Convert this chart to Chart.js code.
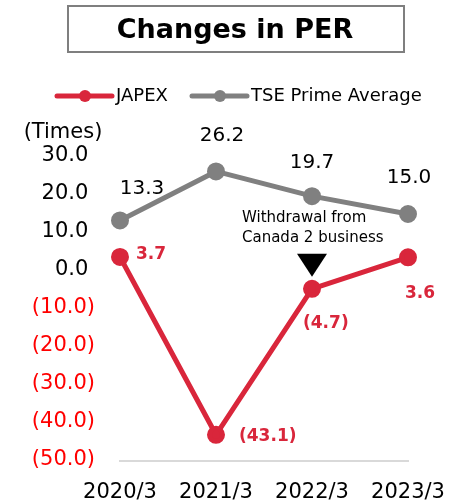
<!DOCTYPE html>
<html>
<head>
<meta charset="utf-8">
<script src="https://cdn.jsdelivr.net/npm/chart.js@4/dist/chart.umd.min.js"></script>
<style>
  html, body { margin: 0; padding: 0; background: #fff; }
  #wrap { position: relative; width: 451px; height: 502px; }
</style>
</head>
<body>
<div id="wrap"><canvas id="myChart" width="451" height="502"></canvas></div>
<script>
// data
var years = ['2020/3', '2021/3', '2022/3', '2023/3'];
var japex = [3.7, -43.1, -4.7, 3.6];
var tsePrime = [13.3, 26.2, 19.7, 15.0];
var seriesNames = ['JAPEX', 'TSE Prime Average'];
var yMin = -50, yMax = 30, yStep = 10;

var RED = '#d9263b';
var GRAY = '#808080';
var FONT = '"DejaVu Sans", Verdana, sans-serif';

function fmt(v) {
    return v < 0 ? '(' + Math.abs(v).toFixed(1) + ')' : v.toFixed(1);
}

// everything around the plot: title box, legend, unit, labels, note
var extras = {
    id: 'extras',
    afterDatasetsDraw: function (chart) {
        var ctx = chart.ctx;
        var xs = chart.scales.x, ys = chart.scales.y;
        ctx.save();

        // title box
        ctx.strokeStyle = '#7f7f7f';
        ctx.lineWidth = 2;
        ctx.strokeRect(68, 6, 336, 46);
        ctx.fillStyle = '#000';
        ctx.font = 'bold 27px ' + FONT;
        ctx.textAlign = 'center';
        ctx.textBaseline = 'middle';
        ctx.fillText('Changes in PER', 235, 31);

        // legend
        var items = [
            { x: 57, color: RED, text: seriesNames[0] },
            { x: 192, color: GRAY, text: seriesNames[1] }
        ];
        items.forEach(function (it) {
            ctx.strokeStyle = it.color;
            ctx.lineWidth = 5;
            ctx.lineCap = 'round';
            ctx.beginPath();
            ctx.moveTo(it.x, 96);
            ctx.lineTo(it.x + 55, 96);
            ctx.stroke();
            ctx.fillStyle = it.color;
            ctx.beginPath();
            ctx.arc(it.x + 28, 96, 6, 0, Math.PI * 2);
            ctx.fill();
            ctx.fillStyle = '#000';
            ctx.font = '18px ' + FONT;
            ctx.textAlign = 'left';
            ctx.fillText(it.text, it.x + 59, 96);
        });

        // unit
        ctx.font = '21px ' + FONT;
        ctx.textAlign = 'center';
        ctx.fillText('(Times)', 63, 133);

        // TSE labels (above points)
        var tseOff = [[22, -32], [6, -36], [0, -33], [1, -36]];
        ctx.font = '20px ' + FONT;
        ctx.fillStyle = '#000';
        tsePrime.forEach(function (v, i) {
            var px = xs.getPixelForValue(i), py = ys.getPixelForValue(v);
            ctx.fillText(v.toFixed(1), px + tseOff[i][0], py + tseOff[i][1]);
        });

        // JAPEX labels
        var jOff = [[16, -2], [23, 2], [-9, 35], [-3, 36]];
        ctx.font = 'bold 17px ' + FONT;
        ctx.fillStyle = RED;
        ctx.textAlign = 'left';
        japex.forEach(function (v, i) {
            var px = xs.getPixelForValue(i), py = ys.getPixelForValue(v);
            ctx.fillText(fmt(v), px + jOff[i][0], py + jOff[i][1]);
        });

        // note + marker on 2022/3
        var ax = xs.getPixelForValue(2), ay = ys.getPixelForValue(japex[2]);
        ctx.fillStyle = '#000';
        ctx.font = '15px ' + FONT;
        ctx.textAlign = 'left';
        ctx.fillText('Withdrawal from', ax - 70, ay - 71);
        ctx.fillText('Canada 2 business', ax - 70, ay - 51);
        ctx.beginPath();
        ctx.moveTo(ax - 15, ay - 35);
        ctx.lineTo(ax + 15, ay - 35);
        ctx.lineTo(ax, ay - 12);
        ctx.closePath();
        ctx.fill();

        ctx.restore();
    }
};

var data = {
    labels: years,
    datasets: [{
        label: seriesNames[0],
        data: japex,
        borderColor: RED,
        backgroundColor: RED,
        borderWidth: 5,
        pointRadius: 6.5,
        pointHoverRadius: 6.5,
        tension: 0
    }, {
        label: seriesNames[1],
        data: tsePrime,
        borderColor: GRAY,
        backgroundColor: GRAY,
        borderWidth: 5,
        pointRadius: 6.5,
        pointHoverRadius: 6.5,
        tension: 0
    }]
};

var config = {
    type: 'line',
    data: data,
    options: {
        responsive: false,
        animation: false,
        layout: { padding: { top: 157, right: 43, left: 0, bottom: 0 } },
        plugins: {
            legend: { display: false },
            title: { display: false },
            tooltip: { enabled: false }
        },
        scales: {
            x: {
                offset: false,
                grid: { display: false, drawTicks: false },
                border: { display: true, color: '#d9d9d9', width: 2 },
                ticks: {
                    color: '#000',
                    font: { family: FONT, size: 21 },
                    padding: 19,
                    maxRotation: 0,
                    autoSkip: false
                },
                afterFit: function (s) {
                    s.height = 41;
                    s.paddingLeft = 0;
                    s.paddingRight = 0;
                }
            },
            y: {
                min: yMin,
                max: yMax,
                grid: { display: false, drawTicks: false },
                border: { display: false },
                ticks: {
                    stepSize: yStep,
                    padding: 25,
                    labelOffset: -1,
                    font: { family: FONT, size: 21 },
                    color: function (c) { return c.tick.value < 0 ? '#ff0000' : '#000'; },
                    callback: function (v) { return v < 0 ? fmt(v) : fmt(v) + ' '; }
                },
                afterFit: function (s) { s.width = 120; }
            }
        }
    },
    plugins: [extras]
};

var ctx = document.getElementById('myChart').getContext('2d');
var myChart = new Chart(ctx, config);
</script>
</body>
</html>
